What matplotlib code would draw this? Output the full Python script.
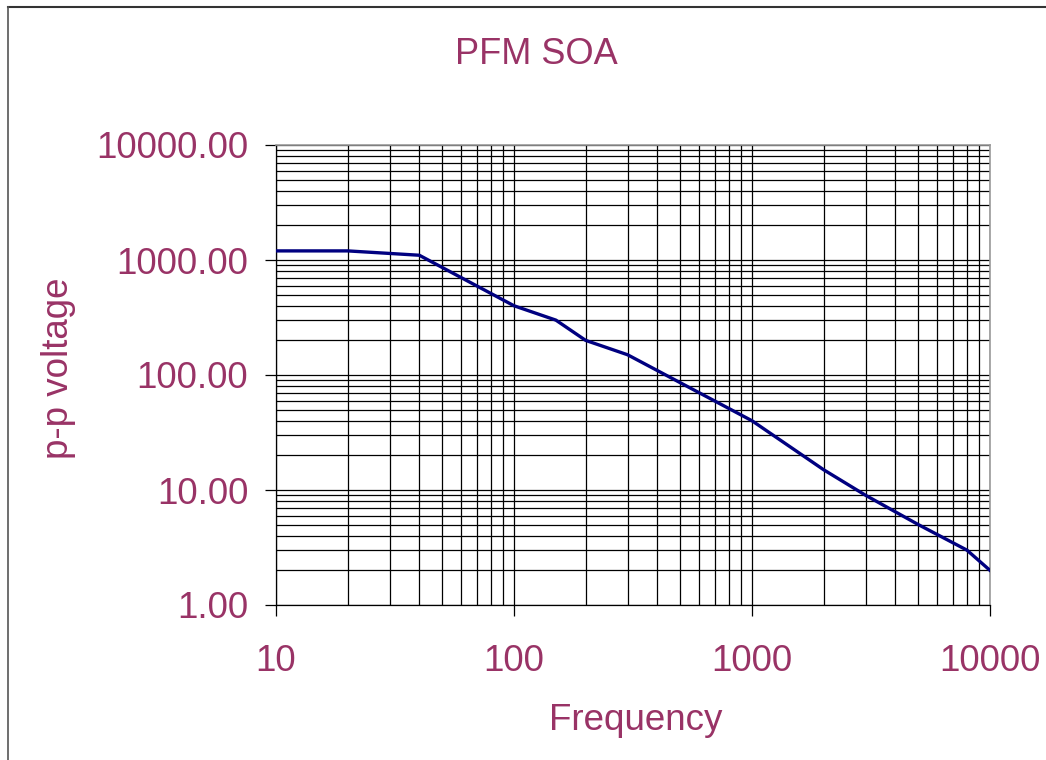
import matplotlib
matplotlib.use("Agg")
import matplotlib.pyplot as plt
import matplotlib.ticker as ticker
from matplotlib.lines import Line2D

# Safe operating area: peak-to-peak voltage over frequency
freq = [10, 20, 40, 100, 150, 200, 300, 1000, 2000, 3000, 5000, 8000, 10000]
vpp = [1200, 1200, 1100, 400, 300, 200, 150, 40, 15, 9, 5, 3, 2]

x_ticks = [10, 100, 1000, 10000]
y_ticks = [1, 10, 100, 1000, 10000]

text_color = "#993366"
line_color = "#000080"

plt.rcParams["font.family"] = ["Liberation Sans", "DejaVu Sans"]

fig = plt.figure(figsize=(10.46, 7.6), dpi=100)
ax = fig.add_axes([276 / 1046, 1 - 605 / 760, (990 - 276) / 1046, (605 - 145) / 760])

ax.plot(freq, vpp, color=line_color, lw=2.4, solid_joinstyle="round", zorder=3)

ax.set_xscale("log")
ax.set_yscale("log")
ax.set_xlim(10, 10000)
ax.set_ylim(1, 10000)

ax.set_xticks(x_ticks)
ax.set_yticks(y_ticks)
ax.xaxis.set_major_formatter(ticker.FuncFormatter(lambda v, p: "%d" % v))
ax.yaxis.set_major_formatter(ticker.FormatStrFormatter("%.2f"))
ax.xaxis.set_minor_locator(ticker.LogLocator(base=10, subs=range(2, 10)))
ax.yaxis.set_minor_locator(ticker.LogLocator(base=10, subs=range(2, 10)))
ax.xaxis.set_minor_formatter(ticker.NullFormatter())
ax.yaxis.set_minor_formatter(ticker.NullFormatter())

ax.grid(True, which="both", color="black", lw=0.9)
ax.set_axisbelow(True)

ax.tick_params(which="major", direction="out", length=8, width=0.9,
               labelsize=26.5, labelcolor=text_color, color="black")
ax.tick_params(axis="y", which="major", pad=12)
ax.tick_params(axis="x", which="major", pad=20)
ax.tick_params(which="minor", length=0)

for side in ("top", "right"):
    ax.spines[side].set_color("#999999")
    ax.spines[side].set_linewidth(1.2)
for side in ("left", "bottom"):
    ax.spines[side].set_color("black")
    ax.spines[side].set_linewidth(0.9)

fig.text(536 / 1046, 1 - 55 / 760, "PFM SOA", color=text_color, fontsize=26,
         ha="center", va="center")
fig.text(636 / 1046, 1 - 721 / 760, "Frequency", color=text_color, fontsize=26.5,
         ha="center", va="center")
fig.text(58 / 1046, 1 - 368 / 760, "p-p voltage", color=text_color, fontsize=26.5,
         ha="center", va="center", rotation=90)

# chart frame (top and left edge)
fig.add_artist(Line2D([8 / 1046, 1.0], [1 - 7 / 760, 1 - 7 / 760],
                      transform=fig.transFigure, color="#333333", lw=1.5))
fig.add_artist(Line2D([8 / 1046, 8 / 1046], [0.0, 1 - 7 / 760],
                      transform=fig.transFigure, color="#555555", lw=1.2))

fig.savefig("out.png", dpi=100, facecolor="white")
